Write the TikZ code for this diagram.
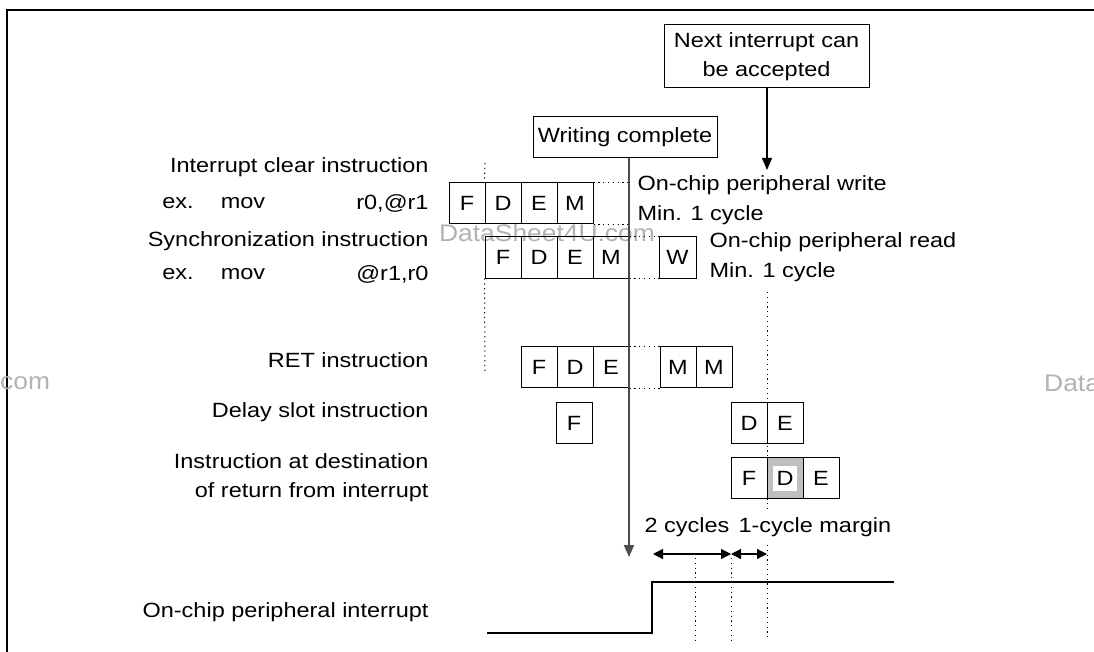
\documentclass[tikz,border=0pt]{standalone}
\usepackage{fontspec}
\setmainfont[FakeStretch=1.14]{Liberation Sans}
\newfontfamily\wmfont[FakeStretch=1.1]{Liberation Sans}
\usetikzlibrary{arrows.meta}

\begin{document}
\begin{tikzpicture}[x=1pt,y=-1pt,
        font=\fontsize{20.6}{29}\selectfont,
        cellbox/.style={draw,line width=1pt,minimum width=36pt,minimum height=41pt,inner sep=0pt},
        labelbox/.style={draw,line width=1pt,inner sep=2pt,align=center},
        dotline/.style={line width=1pt,dash pattern=on 1.2pt off 3.6pt},
        tip/.style={-{Triangle[length=12pt,width=10pt]}},
        wmark/.style={text=black!30,font=\wmfont\fontsize{24}{24}\selectfont}]
    \useasboundingbox (0,0) rectangle (1094,652);

    % frame
    \draw[line width=1.5pt] (7,652) -- (7,10) -- (1094,10);

    % watermarks
    \node[wmark] (wm1) at (547,233) {DataSheet4U.com};
    \node[wmark,anchor=west,inner sep=0pt] (wm2) at (0,383) {com};
    \node[wmark,anchor=west,inner sep=0pt] (wm3) at (1044,383) {Data};

    % row labels
    \node[anchor=east] (lic) at (432,167) {Interrupt clear instruction};
    \node (lic1) at (178,203) {ex.};
    \node (lic2) at (243,203) {mov};
    \node[anchor=east] (lic3) at (432,203) {r0,@r1};
    \node[anchor=east] (lsy) at (432,241) {Synchronization instruction};
    \node (lsy1) at (178,274) {ex.};
    \node (lsy2) at (243,274) {mov};
    \node[anchor=east] (lsy3) at (432,274) {@r1,r0};
    \node[anchor=east] (lrt) at (432,360) {RET instruction};
    \node[anchor=east] (lds) at (432,412) {Delay slot instruction};
    \node[anchor=east,align=right] (ldt) at (432,478) {Instruction at destination\\of return from interrupt};
    \node[anchor=east] (lint) at (432,612) {On-chip peripheral interrupt};

    % pipeline stages
    \foreach \l [count=\i] in {F,D,E,M}
        \node[cellbox] (ic\i) at ({431+36*\i},203.5) {\l};
    \foreach \l [count=\i] in {F,D,E,M}
        \node[cellbox] (sy\i) at ({467+36*\i},257.5) {\l};
    \node[cellbox,minimum width=37pt] (syw) at (677.5,257.5) {W};
    \foreach \l [count=\i] in {F,D,E}
        \node[cellbox] (rt\i) at ({503+36*\i},367) {\l};
    \node[cellbox] (rtm1) at (678,367) {M};
    \node[cellbox] (rtm2) at (714,367) {M};
    \node[cellbox] (ds1) at (574,423) {F};
    \node[cellbox] (ds2) at (749,423) {D};
    \node[cellbox] (ds3) at (785,423) {E};
    \node[cellbox] (dt1) at (749,478) {F};
    \node[cellbox,fill=black!25] (dt2) at (785,478) {};
    \node[fill=white,inner sep=0pt,minimum width=24pt,minimum height=25pt] (dt2in) at (dt2) {D};
    \node[cellbox] (dt3) at (821,478) {E};

    % dotted guides
    \draw[dotline] (ic4.north east) -- ++(36,0);
    \draw[dotline] (ic4.south east) -- ++(36,0);
    \draw[dotline] (sy4.north east) -- (syw.north west);
    \draw[dotline] (sy4.south east) -- (syw.south west);
    \draw[dotline] (rt3.north east) -- (rtm1.north west);
    \draw[dotline] (rt3.south east) -- (rtm1.south west);
    \draw[dotline] (485,163) -- (ic2.north west);
    \draw[dotline] (sy1.south west) -- (485,372);
    \draw[dotline] (767,292) -- (767,510);
    \draw[dotline] (767,545) -- (767,640);
    \draw[dotline] (695,558) -- (695,640);
    \draw[dotline] (731,558) -- (731,640);

    % side notes
    \node[anchor=west] (wr) at (634,185) {On-chip peripheral write};
    \node[anchor=west] (wr2) at (634,215) {Min. 1 cycle};
    \node[anchor=west] (rd) at (706,242) {On-chip peripheral read};
    \node[anchor=west] (rd2) at (706,272) {Min. 1 cycle};

    % events
    \node[labelbox,minimum width=184pt,minimum height=41pt] (wc) at (625,137.5) {Writing complete};
    \node[labelbox,minimum width=205pt,minimum height=63pt] (ni) at (766.5,56.5) {Next interrupt can\\be accepted};
    \coordinate (wcend) at (629,557);
    \coordinate (niend) at (767,170);
    \draw[tip,line width=2pt,black!70] (wc.south -| wcend) -- (wcend);
    \draw[tip,line width=1.2pt] (ni.south -| niend) -- (niend);

    % cycle counts
    \coordinate (c0) at (653,554);
    \coordinate (c1) at (731,554);
    \coordinate (c2) at (767,554);
    \draw[{Triangle[length=10pt,width=10pt]}-{Triangle[length=10pt,width=10pt]},line width=1.2pt] (c0) -- (c1);
    \draw[{Triangle[length=10pt,width=10pt]}-{Triangle[length=10pt,width=10pt]},line width=1.2pt] (c1) -- (c2);
    \node[anchor=west] (cyc) at (641,527) {2 cycles};
    \node[anchor=west] (mrg) at (735,527) {1-cycle margin};

    % interrupt signal
    \draw[line width=1.3pt] (487,633) -- (652,633) -- (652,582) -- (894,582);
\end{tikzpicture}
\end{document}
